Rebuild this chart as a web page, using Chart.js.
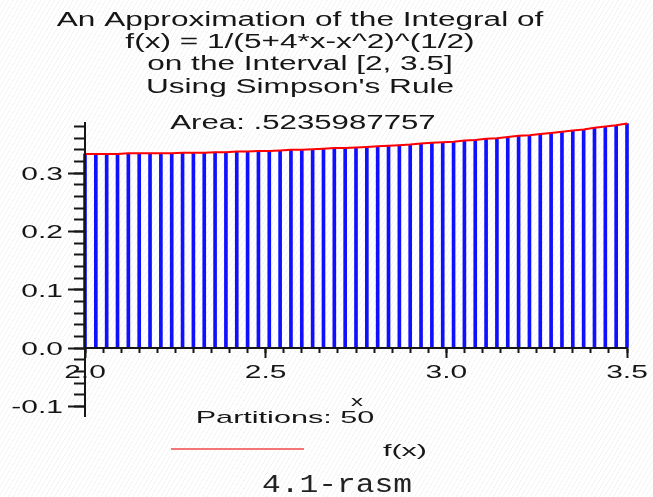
<!DOCTYPE html>
<html>
<head>
<meta charset="utf-8">
<script src="https://cdn.jsdelivr.net/npm/chart.js@4.4.1/dist/chart.umd.min.js"></script>
<style>
  html, body { margin: 0; padding: 0; }
  body {
    width: 653px; height: 497px; overflow: hidden; position: relative;
    background: #fff repeating-linear-gradient(120deg, #fff 0 3px, #f5f5f5 3px 4px);
  }
  #plot { position: absolute; left: 0; top: 0; }
  #caption {
    position: absolute; left: 262px; top: 473px;
    font: 25px/25px "Liberation Mono", "Courier New", monospace; color: #222;
    transform: scaleX(1.25); transform-origin: 0 0; white-space: nowrap;
  }
</style>
</head>
<body>
<canvas id="plot" width="653" height="497"></canvas>
<div id="caption">4.1-rasm</div>
<script>
// partition points of [2, 3.5] (n = 50) and the heights
const partitionX = [2.00, 2.03, 2.06, 2.09, 2.12, 2.15, 2.18, 2.21, 2.24, 2.27,
  2.30, 2.33, 2.36, 2.39, 2.42, 2.45, 2.48, 2.51, 2.54, 2.57,
  2.60, 2.63, 2.66, 2.69, 2.72, 2.75, 2.78, 2.81, 2.84, 2.87,
  2.90, 2.93, 2.96, 2.99, 3.02, 3.05, 3.08, 3.11, 3.14, 3.17,
  3.20, 3.23, 3.26, 3.29, 3.32, 3.35, 3.38, 3.41, 3.44, 3.47, 3.50];
const fValues = [0.333, 0.333, 0.333, 0.333, 0.334, 0.334, 0.334, 0.334, 0.334, 0.335,
  0.335, 0.335, 0.336, 0.336, 0.337, 0.337, 0.338, 0.338, 0.339, 0.340,
  0.340, 0.341, 0.342, 0.343, 0.343, 0.344, 0.345, 0.346, 0.347, 0.348,
  0.349, 0.351, 0.352, 0.353, 0.354, 0.356, 0.357, 0.359, 0.360, 0.362,
  0.364, 0.365, 0.367, 0.369, 0.371, 0.373, 0.375, 0.378, 0.380, 0.382, 0.385];
const xTickLabels = ['2.0', '2.5', '3.0', '3.5'];
const yTickLabels = ['-0.1', '0.0', '0.1', '0.2', '0.3'];
const titleLines = [
  'An Approximation of the Integral of',
  'f(x) = 1/(5+4*x-x^2)^(1/2)',
  'on the Interval [2, 3.5]',
  "Using Simpson's Rule"
];
const areaText = 'Area: .5235987757';
const partitionsText = 'Partitions: 50';
const legendLabel = 'f(x)';

const X_RANGE = [2, 3.5];
const Y_RANGE = [-0.1166, 0.386];
const INK = '#161616';
const HIDDEN = 'rgba(0,0,0,0)';

const points = partitionX.map((x, i) => ({ x: x, y: fValues[i] }));

// maple output is stretched sideways, so text is drawn scaled in x
function stretchText(ctx, text, x, y, size, sx, align) {
  ctx.save();
  ctx.font = size + 'px "Liberation Sans", Arial, sans-serif';
  ctx.fillStyle = INK;
  ctx.textAlign = align || 'center';
  ctx.textBaseline = 'alphabetic';
  ctx.translate(x, y);
  ctx.scale(sx, 1);
  ctx.fillText(text, 0, 0);
  ctx.restore();
}

const mapleText = {
  id: 'mapleText',
  afterDraw(chart) {
    const ctx = chart.ctx;
    const xs = chart.scales.x, ys = chart.scales.y;
    const zeroY = ys.getPixelForValue(0);

    xTickLabels.forEach(l => stretchText(ctx, l, xs.getPixelForValue(+l), zeroY + 30, 18.5, 1.62));
    yTickLabels.forEach(l => stretchText(ctx, l, xs.left - 22, ys.getPixelForValue(+l) + 7, 18.5, 1.62, 'right'));

    titleLines.forEach((l, i) => stretchText(ctx, l, 300, 26 + i * 22.2, 20, 1.58));
    stretchText(ctx, areaText, 303, 129, 20, 1.56);
    stretchText(ctx, 'x', 357, 406, 15, 1.6);
    stretchText(ctx, partitionsText, 285, 423, 17, 1.8);

    // legend
    ctx.save();
    ctx.strokeStyle = '#f04848';
    ctx.lineWidth = 1.5;
    ctx.beginPath();
    ctx.moveTo(171, 449);
    ctx.lineTo(304, 449);
    ctx.stroke();
    ctx.restore();
    stretchText(ctx, legendLabel, 383, 456, 16, 1.9, 'left');
  }
};

new Chart(document.getElementById('plot'), {
  type: 'line',
  data: {
    datasets: [
      { type: 'bar', data: points, backgroundColor: '#1010ff', barThickness: 3, order: 2, clip: false },
      { type: 'line', data: points, borderColor: '#ff0000', borderWidth: 2, pointRadius: 0, tension: 0, order: 1, clip: false }
    ]
  },
  options: {
    responsive: false,
    animation: false,
    devicePixelRatio: 1,
    events: [],
    layout: { padding: { left: 85, right: 26, top: 123, bottom: 81 } },
    plugins: { legend: { display: false }, title: { display: false }, tooltip: { enabled: false } },
    scales: {
      x: {
        type: 'linear', position: { y: 0 }, min: X_RANGE[0], max: X_RANGE[1], offset: false,
        afterBuildTicks: s => { s.ticks = xTickLabels.map(l => ({ value: +l })); },
        ticks: { color: HIDDEN, autoSkip: false, maxRotation: 0, font: { size: 1 } },
        grid: { drawOnChartArea: false, offset: false, tickLength: 9, tickWidth: 2, tickColor: INK, z: 1 },
        border: { color: INK, width: 2, z: 1 }
      },
      xm: {
        type: 'linear', axis: 'x', position: { y: 0 }, min: X_RANGE[0], max: X_RANGE[1], offset: false,
        ticks: { stepSize: 0.05, color: HIDDEN, autoSkip: false, maxRotation: 0, font: { size: 1 } },
        grid: { drawOnChartArea: false, offset: false, tickLength: 5, tickWidth: 2, tickColor: INK, z: 1 },
        border: { display: false }
      },
      y: {
        type: 'linear', position: { x: 2 }, min: Y_RANGE[0], max: Y_RANGE[1],
        afterBuildTicks: s => { s.ticks = yTickLabels.map(l => ({ value: +l })); },
        ticks: { color: HIDDEN, autoSkip: false, font: { size: 1 } },
        grid: { drawOnChartArea: false, tickLength: 16, tickWidth: 2, tickColor: INK, z: 1 },
        border: { color: INK, width: 2, z: 1 }
      },
      ym: {
        type: 'linear', axis: 'y', position: { x: 2 }, min: Y_RANGE[0], max: Y_RANGE[1],
        ticks: { stepSize: 0.02, includeBounds: false, color: HIDDEN, autoSkip: false, font: { size: 1 } },
        grid: { drawOnChartArea: false, tickLength: 11, tickWidth: 2, tickColor: INK, z: 1 },
        border: { display: false }
      }
    }
  },
  plugins: [mapleText]
});
</script>
</body>
</html>
